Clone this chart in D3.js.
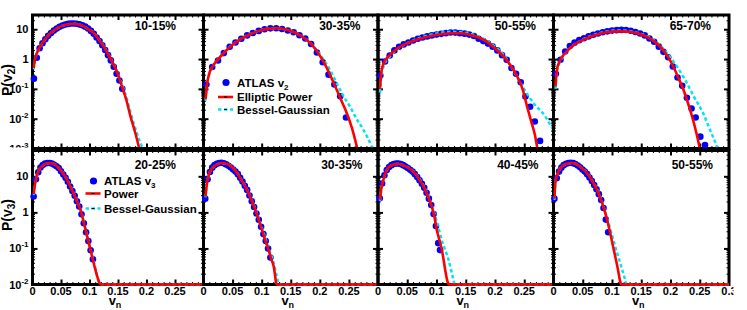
<!DOCTYPE html>
<html><head><meta charset="utf-8">
<script src="https://cdn.jsdelivr.net/npm/d3@7"></script>
<style>
body{margin:0;background:#fff}
svg{display:block}
text{font-family:"Liberation Sans",Arial,Helvetica,sans-serif;font-weight:bold;fill:#000}
</style>
</head><body>
<svg id="c" width="747" height="310"></svg>
<script>
// ---------------- data ----------------
const vnTicks = [0, 0.05, 0.1, 0.15, 0.2, 0.25];
const topYTicks = [10, 1, 0.1, 0.01, 0.001];
const topYLabels = [["10",""],["1",""],["10","-1"],["10","-2"],["10","-3"]];
const bottomYTicks = [10, 1, 0.1, 0.01];
const bottomYLabels = [["10",""],["1",""],["10","-1"],["10","-2"]];
const topCentralities = ["10-15%","30-35%","50-55%","65-70%"];
const bottomCentralities = ["20-25%","30-35%","40-45%","50-55%"];

// v2, 10-15%
const atlasV2_10_15 = [[0.0025,0.22],[0.0075,1.1],[0.0125,2.3],[0.0175,3.4],[0.0225,4.6],[0.0275,6.0],[0.0325,7.5],[0.0375,9.0],[0.0425,10.5],[0.0475,12.0],[0.0525,13.4],[0.0575,14.4],[0.0625,15.1],[0.0675,15.5],[0.0725,15.5],[0.0775,15.2],[0.0825,14.5],[0.0875,13.5],[0.0925,12.2],[0.0975,10.6],[0.1025,8.8],[0.1075,7.0],[0.1125,5.3],[0.1175,4.0],[0.1225,2.9],[0.1275,2.0],[0.1325,1.35],[0.1375,0.9],[0.1425,0.55],[0.1475,0.32],[0.1525,0.19],[0.1575,0.1]];
const ellipticPowerV2_10_15 = [[0.002,0.5],[0.005,1.1],[0.01,2.0],[0.017,3.4],[0.025,5.4],[0.032,7.5],[0.04,9.8],[0.049,12.4],[0.06,14.5],[0.07,15.3],[0.08,14.6],[0.09,12.4],[0.1,9.5],[0.1075,7.5],[0.115,4.9],[0.125,2.6],[0.135,1.2],[0.1426,0.64],[0.15,0.3],[0.157,0.12],[0.165,0.04],[0.172,0.0117],[0.18,0.0035],[0.1865,0.00115],[0.19,0.0006]];
const besselGaussV2_10_15 = [[0.002,0.45],[0.005,1.05],[0.01,1.95],[0.017,3.3],[0.025,5.3],[0.032,7.4],[0.04,9.7],[0.049,12.3],[0.06,14.4],[0.07,15.2],[0.08,14.6],[0.09,12.5],[0.1,9.6],[0.1075,7.6],[0.115,5.0],[0.125,2.7],[0.135,1.25],[0.1426,0.67],[0.15,0.33],[0.157,0.14],[0.165,0.05],[0.172,0.016],[0.18,0.005],[0.1865,0.0021],[0.1924,0.0011],[0.197,0.0005]];

// v2, 30-35%
const atlasV2_30_35 = [[0.005,0.14],[0.015,0.54],[0.025,0.89],[0.035,1.58],[0.045,2.57],[0.055,3.6],[0.065,4.8],[0.075,6.2],[0.085,7.5],[0.095,8.8],[0.105,10.0],[0.115,10.7],[0.125,10.8],[0.135,10.2],[0.145,9.1],[0.155,7.9],[0.165,6.3],[0.175,4.9],[0.185,3.2],[0.195,1.66],[0.205,0.78],[0.215,0.3],[0.225,0.14],[0.235,0.056],[0.245,0.011]];
const ellipticPowerV2_30_35 = [[0.0035,0.045],[0.006,0.14],[0.01,0.33],[0.015,0.55],[0.02,0.75],[0.035,1.6],[0.05,3.0],[0.065,4.8],[0.08,6.8],[0.095,8.8],[0.11,10.3],[0.125,10.8],[0.14,10.0],[0.155,8.1],[0.17,5.6],[0.185,3.2],[0.2,1.3],[0.21,0.6],[0.22,0.23],[0.23,0.085],[0.24,0.03],[0.2465,0.015],[0.255,0.005],[0.2636,0.00115],[0.267,0.0006]];
const besselGaussV2_30_35 = [[0.0035,0.04],[0.006,0.13],[0.01,0.31],[0.015,0.53],[0.02,0.74],[0.035,1.62],[0.05,3.05],[0.065,4.9],[0.08,6.9],[0.095,8.9],[0.11,10.3],[0.125,10.7],[0.14,9.9],[0.155,8.0],[0.17,5.6],[0.185,3.3],[0.2,1.45],[0.21,0.75],[0.22,0.35],[0.229,0.155],[0.24,0.06],[0.252,0.025],[0.263,0.01],[0.275,0.0042],[0.289,0.00115],[0.293,0.0007]];

// v2, 50-55%
const atlasV2_50_55 = [[0.004,0.28],[0.012,0.83],[0.02,1.32],[0.028,1.95],[0.036,2.57],[0.044,3.1],[0.052,3.6],[0.06,4.2],[0.068,4.8],[0.076,5.25],[0.084,5.75],[0.092,6.2],[0.1,6.6],[0.108,7.0],[0.116,7.4],[0.124,7.8],[0.132,7.7],[0.14,7.4],[0.148,7.1],[0.156,6.6],[0.164,5.9],[0.172,4.8],[0.18,4.0],[0.188,3.3],[0.196,2.6],[0.204,1.95],[0.212,1.35],[0.22,0.95],[0.228,0.5],[0.236,0.32],[0.244,0.166],[0.252,0.055],[0.26,0.025],[0.268,0.008],[0.277,0.0018]];
const ellipticPowerV2_50_55 = [[0.0034,0.1],[0.006,0.4],[0.01,0.75],[0.02,1.35],[0.035,2.4],[0.05,3.4],[0.07,4.7],[0.09,5.9],[0.11,6.9],[0.125,7.35],[0.14,7.3],[0.155,6.7],[0.17,5.5],[0.185,3.9],[0.2,2.3],[0.215,1.2],[0.228,0.55],[0.238,0.26],[0.247,0.1],[0.255,0.025],[0.262,0.008],[0.268,0.003],[0.272,0.00115],[0.275,0.0006]];
const besselGaussV2_50_55 = [[0.0034,0.075],[0.006,0.3],[0.01,0.6],[0.02,1.2],[0.035,2.3],[0.05,3.4],[0.07,5.0],[0.09,6.5],[0.11,7.7],[0.125,8.2],[0.14,8.0],[0.155,7.2],[0.17,5.9],[0.185,4.2],[0.2,2.6],[0.215,1.35],[0.232,0.4],[0.249,0.104],[0.266,0.033],[0.284,0.0135],[0.298,0.0048],[0.305,0.003]];

// v2, 65-70%
const atlasV2_65_70 = [[0.004,0.32],[0.012,0.95],[0.02,1.8],[0.028,2.75],[0.036,3.55],[0.044,4.3],[0.052,5.0],[0.06,5.75],[0.068,6.5],[0.076,7.2],[0.084,7.9],[0.092,8.5],[0.1,9.0],[0.108,9.3],[0.116,9.5],[0.124,9.4],[0.132,8.9],[0.14,8.1],[0.148,7.2],[0.156,6.2],[0.164,4.9],[0.172,3.8],[0.18,2.6],[0.188,1.74],[0.196,1.15],[0.204,0.56],[0.212,0.24],[0.22,0.126],[0.228,0.05],[0.236,0.022],[0.243,0.011],[0.251,0.0025],[0.259,0.0013]];
const ellipticPowerV2_65_70 = [[0.0034,0.12],[0.006,0.45],[0.01,0.8],[0.02,1.6],[0.035,3.0],[0.05,4.4],[0.07,6.3],[0.09,7.9],[0.105,8.5],[0.12,8.5],[0.135,7.9],[0.15,6.7],[0.165,4.9],[0.18,2.9],[0.195,1.25],[0.205,0.55],[0.215,0.2],[0.222,0.095],[0.228,0.043],[0.235,0.016],[0.242,0.005],[0.2494,0.00115],[0.252,0.0006]];
const besselGaussV2_65_70 = [[0.0034,0.1],[0.006,0.38],[0.01,0.72],[0.02,1.5],[0.035,3.0],[0.05,4.5],[0.07,6.6],[0.09,8.3],[0.105,9.0],[0.12,9.0],[0.135,8.3],[0.15,7.0],[0.165,5.2],[0.18,3.2],[0.195,1.5],[0.21,0.6],[0.225,0.2],[0.24,0.055],[0.256,0.015],[0.268,0.004],[0.279,0.00115],[0.283,0.0006]];

// v3, 20-25%
const atlasV3_20_25 = [[0.002,2.75],[0.006,8.3],[0.01,13],[0.014,17.5],[0.018,20.5],[0.022,22.5],[0.026,23.5],[0.03,23.5],[0.034,22.5],[0.038,21],[0.042,19],[0.046,17],[0.05,13.8],[0.054,11.2],[0.058,9.1],[0.062,7.1],[0.066,5.2],[0.07,3.9],[0.074,2.9],[0.078,2.04],[0.082,1.45],[0.086,0.89],[0.09,0.5],[0.094,0.28],[0.098,0.16],[0.102,0.089],[0.106,0.05]];
const powerV3_20_25 = [[0.002,3.2],[0.005,7.0],[0.008,11],[0.012,15.5],[0.018,20],[0.0286,23.4],[0.038,22],[0.046,17],[0.053,12.5],[0.0605,8],[0.066,5.4],[0.072,3.4],[0.078,2.05],[0.0842,1.17],[0.089,0.6],[0.093,0.33],[0.0975,0.17],[0.1018,0.091],[0.106,0.048],[0.1105,0.025],[0.114,0.016],[0.118,0.0107],[0.121,0.006],[0.3,0.001]];
const besselGaussV3_20_25 = [[0.002,3.0],[0.005,6.8],[0.008,10.8],[0.012,15.3],[0.018,19.8],[0.0286,23.2],[0.038,22],[0.046,17.2],[0.053,12.8],[0.0605,8.2],[0.066,5.6],[0.072,3.5],[0.078,2.1],[0.0842,1.2],[0.089,0.63],[0.093,0.35],[0.0975,0.18],[0.1018,0.095],[0.106,0.052],[0.1105,0.028],[0.1135,0.0166],[0.1193,0.0107],[0.123,0.006],[0.3,0.001]];

// v3, 30-35%
const atlasV3_30_35 = [[0.003,2.4],[0.007,8.3],[0.011,13.2],[0.015,17.4],[0.019,20.4],[0.023,22.4],[0.027,23.4],[0.031,23.7],[0.035,22.9],[0.039,21.4],[0.043,19.5],[0.047,17.6],[0.051,15.5],[0.055,13.5],[0.059,11.5],[0.063,9.1],[0.067,7.2],[0.071,5.5],[0.075,4.2],[0.079,2.95],[0.083,2.04],[0.087,1.41],[0.091,0.93],[0.095,0.62],[0.099,0.4],[0.103,0.25],[0.107,0.16],[0.111,0.1],[0.115,0.056]];
const powerV3_30_35 = [[0.0034,2.75],[0.006,6.5],[0.0091,11],[0.014,16],[0.02,20],[0.032,23.4],[0.042,21.5],[0.05,17.5],[0.0578,12.3],[0.066,7.5],[0.075,4.2],[0.082,2.3],[0.089,1.17],[0.095,0.62],[0.1007,0.32],[0.106,0.17],[0.112,0.091],[0.1165,0.05],[0.1206,0.032],[0.123,0.018],[0.125,0.0107],[0.127,0.006],[0.3,0.001]];
const besselGaussV3_30_35 = [[0.0034,2.6],[0.006,6.3],[0.0091,10.8],[0.014,15.8],[0.02,19.8],[0.032,23.2],[0.042,21.5],[0.05,17.6],[0.0578,12.5],[0.066,7.7],[0.075,4.3],[0.082,2.4],[0.089,1.25],[0.095,0.67],[0.1007,0.36],[0.106,0.2],[0.112,0.1],[0.1206,0.04],[0.125,0.02],[0.129,0.0107],[0.131,0.006],[0.3,0.001]];

// v3, 40-45%
const atlasV3_40_45 = [[0.003,2.45],[0.007,6.3],[0.011,10.7],[0.015,15],[0.019,18.2],[0.023,20.4],[0.027,21.9],[0.031,22.6],[0.035,22.6],[0.039,21.9],[0.043,20.4],[0.047,18.6],[0.051,17],[0.055,15.1],[0.059,13.5],[0.063,11.5],[0.067,9.5],[0.071,7.8],[0.075,6.2],[0.079,4.8],[0.083,3.5],[0.087,2.4],[0.091,1.6],[0.095,0.9],[0.099,0.42],[0.103,0.14],[0.106,0.09]];
const powerV3_40_45 = [[0.0034,2.24],[0.006,5],[0.0091,7.9],[0.0149,15],[0.022,20],[0.0349,22.4],[0.045,19.5],[0.0606,13.5],[0.07,8.5],[0.0778,5.25],[0.085,2.9],[0.092,1.45],[0.0965,0.75],[0.1006,0.32],[0.105,0.17],[0.1092,0.091],[0.112,0.05],[0.1149,0.025],[0.1189,0.012],[0.121,0.007],[0.3,0.001]];
const besselGaussV3_40_45 = [[0.0034,2.1],[0.006,4.8],[0.0091,7.7],[0.0149,14.7],[0.022,19.8],[0.0349,22.3],[0.045,19.6],[0.0606,13.7],[0.07,8.8],[0.0778,5.5],[0.085,3.1],[0.092,1.55],[0.1,0.6],[0.109,0.17],[0.1206,0.048],[0.129,0.0133],[0.131,0.009],[0.3,0.001]];

// v3, 50-55%
const atlasV3_50_55 = [[0.0015,2.4],[0.0055,8.9],[0.0095,13.5],[0.0135,17.4],[0.0175,20.4],[0.0215,22.4],[0.0255,23.4],[0.0295,23.7],[0.0335,23.2],[0.0375,21.9],[0.0415,20],[0.0455,17.8],[0.0495,15.5],[0.0535,13.5],[0.0575,11.5],[0.0615,9.3],[0.0655,7.4],[0.0695,5.75],[0.0735,4.4],[0.0775,3.2],[0.0815,2.2],[0.0855,1.32],[0.0895,0.63],[0.0935,0.28]];
const powerV3_50_55 = [[0.0015,2.4],[0.0034,7.2],[0.007,12],[0.012,17],[0.02,21.5],[0.0318,23.4],[0.042,20.5],[0.05,16],[0.0574,12.3],[0.066,7.5],[0.0744,4.2],[0.082,2.05],[0.0886,0.95],[0.093,0.5],[0.0971,0.26],[0.1015,0.12],[0.1056,0.059],[0.11,0.027],[0.1141,0.012],[0.116,0.007],[0.3,0.001]];
const besselGaussV3_50_55 = [[0.0015,2.2],[0.0034,6.9],[0.007,11.7],[0.012,16.8],[0.02,21.3],[0.0318,23.3],[0.042,20.6],[0.05,16.2],[0.0574,12.5],[0.066,7.7],[0.0744,4.4],[0.082,2.2],[0.0886,1.0],[0.097,0.35],[0.1056,0.11],[0.114,0.039],[0.1227,0.0133],[0.125,0.008],[0.3,0.001]];

// ---------------- layout ----------------
const colX = [32.5, 203.5, 378, 553.5, 729];
const BLUE = "#0000ff", RED = "#ff0000", CYAN = "#00e4f2";
const svg = d3.select("#c");
const defs = svg.append("defs");

const rows = [
  { id: "t", y: d3.scaleLog().domain([1e-3, 30]).range([148.5, 15]), clipBottom: 147.2,
    titles: topCentralities, titleOff: [27.5, 17.5, 17.5, 18], titleBase: 30,
    yTicks: topYTicks, yLabels: topYLabels,
    panels: [
      [atlasV2_10_15, ellipticPowerV2_10_15, besselGaussV2_10_15],
      [atlasV2_30_35, ellipticPowerV2_30_35, besselGaussV2_30_35],
      [atlasV2_50_55, ellipticPowerV2_50_55, besselGaussV2_50_55],
      [atlasV2_65_70, ellipticPowerV2_65_70, besselGaussV2_65_70]] },
  { id: "b", y: d3.scaleLog().domain([1e-2, 52]).range([284.5, 150.5]).clamp(true), clipBottom: 286,
    titles: bottomCentralities, titleOff: [27.5, 15.5, 15, 16], titleBase: 169,
    yTicks: bottomYTicks, yLabels: bottomYLabels,
    panels: [
      [atlasV3_20_25, powerV3_20_25, besselGaussV3_20_25],
      [atlasV3_30_35, powerV3_30_35, besselGaussV3_30_35],
      [atlasV3_40_45, powerV3_40_45, besselGaussV3_40_45],
      [atlasV3_50_55, powerV3_50_55, besselGaussV3_50_55]] }
];

const xMinor = d3.range(1, 30).map(i => i / 100).filter(v => Math.abs(v * 20 - Math.round(v * 20)) > 1e-6);
function yMinorFor(scale) {
  const [a, b] = scale.domain();
  const out = [];
  for (let e = Math.floor(Math.log10(a)); e <= Math.ceil(Math.log10(b)); e++)
    for (let m = 2; m <= 9; m++) { const v = m * Math.pow(10, e); if (v > a && v < b) out.push(v); }
  return out;
}

function tickAxis(g, axis, tx, ty, vals, size, w) {
  g.append("g").attr("transform", `translate(${tx},${ty})`)
    .call(axis.tickValues(vals).tickSize(size).tickFormat(""))
    .call(s => s.select(".domain").remove())
    .call(s => s.selectAll("line").attr("stroke", "#000").attr("stroke-width", w));
}

rows.forEach((row, ri) => {
  const y = row.y;
  const [yb, yt] = y.range();
  const yMinor = yMinorFor(y);
  const yMajor = row.yTicks.filter(v => v > y.domain()[0] && v < y.domain()[1]);
  row.panels.forEach((p, ci) => {
    const x0 = colX[ci], x1 = colX[ci + 1];
    const x = d3.scaleLinear().domain([0, 0.3]).range([x0, x1]);
    const g = svg.append("g");
    g.append("rect").attr("x", x0).attr("y", yt).attr("width", x1 - x0).attr("height", yb - yt)
      .attr("fill", "none").attr("stroke", "#000").attr("stroke-width", 3);
    const xMaj = vnTicks.filter(v => v > 0);
    tickAxis(g, d3.axisTop(x), 0, yb, xMaj, 5, 2);
    tickAxis(g, d3.axisBottom(x), 0, yt, xMaj, 5, 2);
    tickAxis(g, d3.axisTop(x), 0, yb, xMinor, 2.5, 1);
    tickAxis(g, d3.axisBottom(x), 0, yt, xMinor, 2.5, 1);
    tickAxis(g, d3.axisRight(y), x0, 0, yMajor, 5, 2);
    tickAxis(g, d3.axisLeft(y), x1, 0, yMajor, 5, 2);
    tickAxis(g, d3.axisRight(y), x0, 0, yMinor, 2.5, 1);
    tickAxis(g, d3.axisLeft(y), x1, 0, yMinor, 2.5, 1);

    const cid = `clip${row.id}${ci}`;
    defs.append("clipPath").attr("id", cid).append("rect")
      .attr("x", x0).attr("y", yt).attr("width", x1 - x0).attr("height", row.clipBottom - yt);

    const line = d3.line().x(d => x(d[0])).y(d => y(d[1])).curve(d3.curveMonotoneX);
    const [atlas, model, bg] = p;
    g.append("g").selectAll("circle").data(atlas).join("circle")
      .attr("cx", d => x(d[0])).attr("cy", d => y(d[1])).attr("r", 3.3).attr("fill", BLUE);
    g.append("path").attr("d", line(bg)).attr("clip-path", `url(#${cid})`)
      .attr("fill", "none").attr("stroke", CYAN).attr("stroke-width", 2.5).attr("stroke-dasharray", "3.5,2.5");
    g.append("path").attr("d", line(model)).attr("clip-path", `url(#${cid})`)
      .attr("fill", "none").attr("stroke", RED).attr("stroke-width", 2.6);
  });
});

// titles
rows.forEach(row => {
  row.titles.forEach((t, ci) => {
    svg.append("text").attr("x", colX[ci + 1] - row.titleOff[ci]).attr("y", row.titleBase)
      .attr("text-anchor", "end").attr("font-size", 12).text(t);
  });
});

// y tick labels
defs.append("clipPath").attr("id", "clipTopLab").append("rect").attr("x", 0).attr("y", 0).attr("width", 32).attr("height", 147.5);
rows.forEach((row, ri) => {
  const g = svg.append("g");
  if (ri === 0) g.attr("clip-path", "url(#clipTopLab)");
  row.yTicks.forEach((v, i) => {
    const [base, sup] = row.yLabels[i];
    const t = g.append("text").attr("x", 28.5).attr("y", row.y(v) + 4).attr("text-anchor", "end").attr("font-size", 11);
    t.append("tspan").text(base);
    if (sup) t.append("tspan").attr("font-size", 8).attr("dy", -5).text(sup);
  });
});

// x tick labels (bottom row)
defs.append("clipPath").attr("id", "clipXLab").append("rect").attr("x", 0).attr("y", 286).attr("width", 733.5).attr("height", 24);
const xl = svg.append("g").attr("clip-path", "url(#clipXLab)");
for (let ci = 0; ci < 4; ci++) {
  const x = d3.scaleLinear().domain([0, 0.3]).range([colX[ci], colX[ci + 1]]);
  const vals = ci === 3 ? vnTicks.concat([0.3]) : vnTicks;
  vals.forEach(v => {
    xl.append("text").attr("x", x(v)).attr("y", 294.5).attr("text-anchor", "middle").attr("font-size", 11)
      .text(v === 0 ? "0" : d3.format(".2~f")(v));
  });
  const t = svg.append("text").attr("x", (colX[ci] + colX[ci + 1]) / 2 - 3).attr("y", 304.5)
    .attr("text-anchor", "middle").attr("font-size", 13);
  t.append("tspan").text("v");
  t.append("tspan").attr("font-size", 9).attr("dy", 3.5).text("n");
}

// y axis titles
function yTitle(cy, sub) {
  const t = svg.append("text").attr("transform", `translate(11.5,${cy}) rotate(-90)`)
    .attr("text-anchor", "middle").attr("font-size", 14);
  t.append("tspan").text("P(v");
  t.append("tspan").attr("font-size", 10).attr("dy", 3.5).text(sub);
  t.append("tspan").attr("dy", -3.5).text(")");
}
yTitle(80, "2");
yTitle(215, "3");

// legends
function legend(x0, lineX0, lineX1, rowsY, labels, sub) {
  svg.append("circle").attr("cx", (lineX0 + lineX1) / 2 + 0.5).attr("cy", rowsY[0]).attr("r", 3.6).attr("fill", BLUE);
  svg.append("line").attr("x1", lineX0).attr("x2", lineX1).attr("y1", rowsY[1]).attr("y2", rowsY[1])
    .attr("stroke", RED).attr("stroke-width", 2.6);
  svg.append("line").attr("x1", lineX0).attr("x2", lineX1).attr("y1", rowsY[2]).attr("y2", rowsY[2])
    .attr("stroke", CYAN).attr("stroke-width", 2.5).attr("stroke-dasharray", "3.5,2.5");
  [1, 2].forEach(k => svg.append("line").attr("x1", (lineX0 + lineX1) / 2 - 1.5).attr("x2", (lineX0 + lineX1) / 2 + 1.5)
    .attr("y1", rowsY[k]).attr("y2", rowsY[k]).attr("stroke", "#000").attr("stroke-width", 1));
  labels.forEach((lab, k) => {
    const t = svg.append("text").attr("x", x0).attr("y", rowsY[k] + 4.2).attr("font-size", 11.5);
    t.append("tspan").text(lab);
    if (k === 0) t.append("tspan").attr("font-size", 8).attr("dy", 3).text(sub);
  });
}
legend(237, 218, 233, [82.5, 97, 109.5], ["ATLAS v", "Elliptic Power", "Bessel-Gaussian"], "2");
legend(104, 85.5, 100.5, [181, 193.5, 208.5], ["ATLAS v", "Power", "Bessel-Gaussian"], "3");
</script>
</body></html>
